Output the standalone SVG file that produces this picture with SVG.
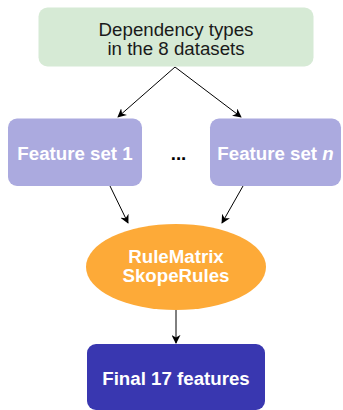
<svg xmlns="http://www.w3.org/2000/svg" width="343" height="410" viewBox="0 0 343 410">
<defs>
<style>
.lbl{font-family:"Liberation Sans",Arial,sans-serif;font-size:18.7px;text-anchor:middle}
.w{fill:#ffffff;font-weight:bold}
.edge{stroke:#000;stroke-width:1;fill:none;marker-end:url(#ah)}
</style>
<marker id="ah" viewBox="0 0 10 10" refX="9" refY="5" markerWidth="9" markerHeight="9" markerUnits="userSpaceOnUse" orient="auto">
<path d="M0,0 L10,5 L0,10 L3,5 Z" fill="#000"/>
</marker>
</defs>
<g id="connectors">
<path class="edge" d="M175,67 L118,117"/>
<path class="edge" d="M175,67 L241,117"/>
<path class="edge" d="M110,186 L128,223"/>
<path class="edge" d="M243,186 L222,223"/>
<path class="edge" d="M176,310 L176,343"/>
</g>
<g id="top">
<rect x="38.5" y="7.5" width="275" height="59" rx="9" fill="#d6ead5"/>
<text class="lbl" x="176" y="35.5" fill="#1a1a1a">Dependency types</text>
<text class="lbl" x="176" y="54.5" fill="#1a1a1a">in the 8 datasets</text>
</g>
<g id="fs1">
<rect x="8" y="118.5" width="134" height="67.5" rx="9" fill="#abaadf"/>
<text class="lbl w" x="75" y="160">Feature set 1</text>
</g>
<g id="dots">
<text class="lbl" x="178.5" y="160" font-weight="bold" font-size="29" fill="#000">...</text>
</g>
<g id="fsn">
<rect x="210" y="118.5" width="131" height="67.5" rx="9" fill="#abaadf"/>
<text class="lbl w" x="275.5" y="160">Feature set <tspan font-style="italic">n</tspan></text>
</g>
<g id="rules">
<ellipse cx="176" cy="267" rx="90" ry="43" fill="#fdaa38"/>
<text class="lbl w" x="176" y="263">RuleMatrix</text>
<text class="lbl w" x="176" y="282">SkopeRules</text>
</g>
<g id="final">
<rect x="87" y="344" width="178" height="66" rx="9" fill="#3937b0"/>
<text class="lbl w" x="176" y="385">Final 17 features</text>
</g>
</svg>
